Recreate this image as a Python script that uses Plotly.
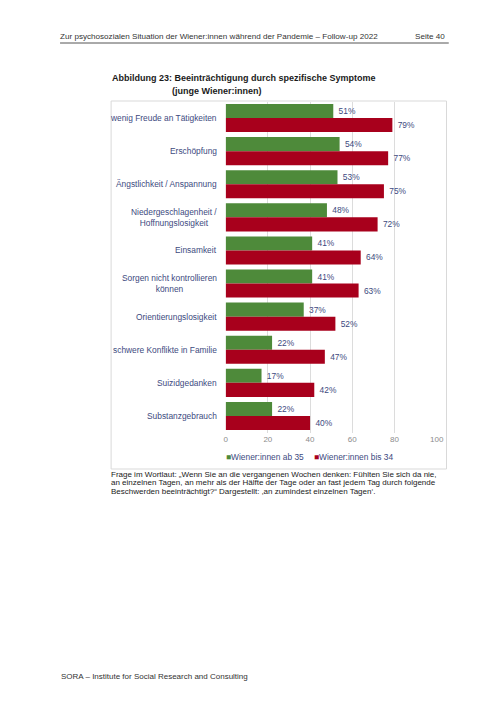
import plotly.graph_objects as go

categories = [
    "wenig Freude an Tätigkeiten",
    "Erschöpfung",
    "Ängstlichkeit / Anspannung",
    "Niedergeschlagenheit /<br>Hoffnungslosigkeit",
    "Einsamkeit",
    "Sorgen nicht kontrollieren<br>können",
    "Orientierungslosigkeit",
    "schwere Konflikte in Familie",
    "Suizidgedanken",
    "Substanzgebrauch",
]
ab35 = [51, 54, 53, 48, 41, 41, 37, 22, 17, 22]
bis34 = [79, 77, 75, 72, 64, 63, 52, 47, 42, 40]
series_names = ["Wiener:innen ab 35", "Wiener:innen bis 34"]
x_ticks = [0, 20, 40, 60, 80, 100]

# page is rendered with the browser's default 8px body margin
OFF = 8
W, H = 504 - 2 * OFF, 712 - 2 * OFF
GREEN = "#4e8a3a"
RED = "#a8001c"
BLUE = "#3d4a80"
FONT = "Liberation Sans, Arial, Helvetica, sans-serif"
LBL = 8.4

def px(x):
    return (x - OFF) / W

def py(y):
    return 1 - (y - OFF) / H

fig = go.Figure()
for name, vals, col in [(series_names[0], ab35, GREEN), (series_names[1], bis34, RED)]:
    fig.add_trace(go.Bar(
        y=categories, x=vals, name=name, orientation="h",
        marker=dict(color=col, line=dict(width=0)),
        text=[f" {v}%" for v in vals], textposition="outside",
        textfont=dict(size=LBL, color=BLUE, family=FONT),
        cliponaxis=False, showlegend=False,
    ))

fig.update_layout(
    width=W, height=H, margin=dict(l=0, r=0, t=0, b=0),
    paper_bgcolor="white", plot_bgcolor="white",
    barmode="group", bargap=0.15, bargroupgap=0,
    font=dict(family=FONT, size=LBL, color=BLUE),
    xaxis=dict(domain=[px(227.7), px(442.7)], range=[0, 100], tickvals=x_ticks,
               showgrid=True, gridcolor="#dcdcdc", gridwidth=1, zeroline=False,
               showline=False, ticks="", tickfont=dict(size=8, color="#8c8c8c"),
               fixedrange=True),
    yaxis=dict(domain=[py(432.5), py(101.5)], autorange="reversed", showticklabels=False,
               showgrid=False, zeroline=False, showline=False, ticks="",
               fixedrange=True),
)

# category labels
for c in categories:
    fig.add_annotation(x=px(221), xref="paper", y=c, yref="y", text=c,
                       xanchor="right", yanchor="middle", align="center",
                       showarrow=False, font=dict(size=LBL, color=BLUE, family=FONT))

# legend (as annotations)
fig.add_annotation(x=px(226), xref="paper", y=py(457), yref="paper",
                   text=f"<span style='color:{GREEN}'>■</span>{series_names[0]}",
                   xanchor="left", yanchor="middle", showarrow=False,
                   font=dict(size=LBL, color=BLUE, family=FONT))
fig.add_annotation(x=px(316), xref="paper", y=py(457), yref="paper",
                   text=f"<span style='color:{RED}'>■</span>{series_names[1]}",
                   xanchor="left", yanchor="middle", showarrow=False,
                   font=dict(size=LBL, color=BLUE, family=FONT))

# chart box
fig.add_shape(type="rect", xref="paper", yref="paper",
              x0=px(111), x1=px(452.7), y0=py(469), y1=py(101),
              line=dict(color="#d9d9d9", width=1), layer="below")

# title
fig.add_annotation(x=px(110), xref="paper", y=py(78), yref="paper",
                   text="<b>Abbildung 23: Beeinträchtigung durch spezifische Symptome</b>",
                   xanchor="left", yanchor="middle", showarrow=False,
                   font=dict(size=9, color="#1a1a1a", family=FONT))
fig.add_annotation(x=px(171), xref="paper", y=py(91), yref="paper",
                   text="<b>(junge Wiener:innen)</b>",
                   xanchor="left", yanchor="middle", showarrow=False,
                   font=dict(size=9, color="#1a1a1a", family=FONT))

# header
fig.add_annotation(x=px(57), xref="paper", y=py(37), yref="paper",
                   text="Zur psychosozialen Situation der Wiener:innen während der Pandemie – Follow-up 2022",
                   xanchor="left", yanchor="middle", showarrow=False,
                   font=dict(size=8.1, color="#333333", family=FONT))
fig.add_annotation(x=px(453), xref="paper", y=py(37), yref="paper",
                   text="Seite 40", xanchor="right", yanchor="middle", showarrow=False,
                   font=dict(size=8.1, color="#333333", family=FONT))
fig.add_shape(type="line", xref="paper", yref="paper",
              x0=px(59), x1=px(455), y0=py(43), y1=py(43),
              line=dict(color="#555555", width=1))

# footnote
foot = [
    "Frage im Wortlaut: „Wenn Sie an die vergangenen Wochen denken: Fühlten Sie sich da nie,",
    "an einzelnen Tagen, an mehr als der Hälfte der Tage oder an fast jedem Tag durch folgende",
    "Beschwerden beeinträchtigt?“ Dargestellt: ‚an zumindest einzelnen Tagen‘.",
]
for i, line in enumerate(foot):
    fig.add_annotation(x=px(109), xref="paper", y=py(474 + 8.7 * i), yref="paper",
                       text=line, xanchor="left", yanchor="middle", showarrow=False,
                       font=dict(size=8, color="#1a1a1a", family=FONT))

# footer
fig.add_annotation(x=px(58), xref="paper", y=py(676), yref="paper",
                   text="SORA – Institute for Social Research and Consulting",
                   xanchor="left", yanchor="middle", showarrow=False,
                   font=dict(size=8, color="#333333", family=FONT))

fig.write_html("out.html", config={"displayModeBar": False})
